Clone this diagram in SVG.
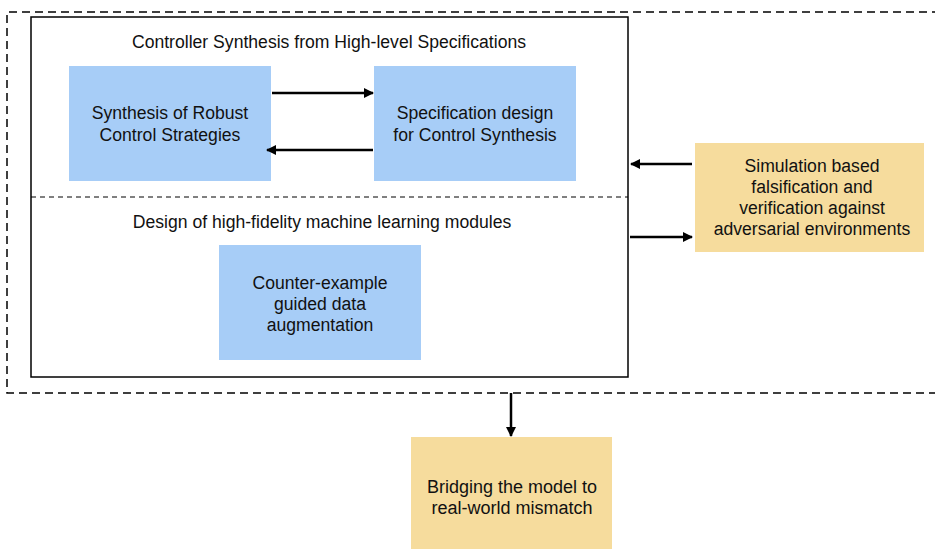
<svg xmlns="http://www.w3.org/2000/svg" width="935" height="550" viewBox="0 0 935 550">
<style>
.t{font-family:"Liberation Sans",Arial,sans-serif;font-size:17.6px;fill:#111;text-anchor:middle}
.b{font-size:18px}
.blue{fill:#a7cdf7}
.yel{fill:#f6dc9d}
.c{stroke:#000;stroke-width:2.5;fill:none;marker-end:url(#ah)}
</style>
<defs>
<marker id="ah" markerWidth="10" markerHeight="10" refX="9" refY="5" orient="auto" markerUnits="userSpaceOnUse" viewBox="0 0 10 10">
<path d="M0,0 L10,5 L0,10 z" fill="#000"/>
</marker>
</defs>
<rect width="935" height="550" fill="#fff"/>
<g id="outer">
<path d="M940,12 H7 V393 H940" fill="none" stroke="#000" stroke-width="1.5" stroke-dasharray="8,5"/>
</g>
<g id="inner">
<rect x="31" y="17" width="597" height="360" fill="#fff" stroke="#000" stroke-width="1.5"/>
<line x1="31" y1="197" x2="628" y2="197" stroke="#000" stroke-width="1" stroke-dasharray="5,4"/>
<text class="t" x="329" y="48">Controller Synthesis from High-level Specifications</text>
<text class="t" x="322" y="228">Design of high-fidelity machine learning modules</text>
</g>
<g id="robust">
<rect class="blue" x="69" y="66" width="202" height="115"/>
<text class="t" x="170" y="119">Synthesis of Robust</text>
<text class="t" x="170" y="141">Control Strategies</text>
</g>
<g id="spec">
<rect class="blue" x="374" y="66" width="202" height="115"/>
<text class="t" x="475" y="119">Specification design</text>
<text class="t" x="475" y="141">for Control Synthesis</text>
</g>
<g id="counter">
<rect class="blue" x="219" y="245" width="202" height="115"/>
<text class="t" x="320" y="289">Counter-example</text>
<text class="t" x="320" y="310">guided data</text>
<text class="t" x="320" y="331">augmentation</text>
</g>
<g id="sim">
<rect class="yel" x="695" y="143" width="229" height="109"/>
<text class="t" x="812" y="172">Simulation based</text>
<text class="t" x="812" y="193">falsification and</text>
<text class="t" x="812" y="214">verification against</text>
<text class="t" x="812" y="235">adversarial environments</text>
</g>
<g id="bridge">
<rect class="yel" x="411" y="437" width="201" height="112"/>
<text class="t b" x="512" y="493">Bridging the model to</text>
<text class="t b" x="512" y="514">real-world mismatch</text>
</g>
<g id="connectors">
<line class="c" x1="272" y1="93" x2="373" y2="93"/>
<line class="c" x1="373" y1="150" x2="267" y2="150"/>
<line class="c" x1="692" y1="164" x2="631" y2="164"/>
<line class="c" x1="630" y1="237" x2="692" y2="237"/>
<line class="c" x1="511" y1="393" x2="511" y2="436"/>
</g>
</svg>
